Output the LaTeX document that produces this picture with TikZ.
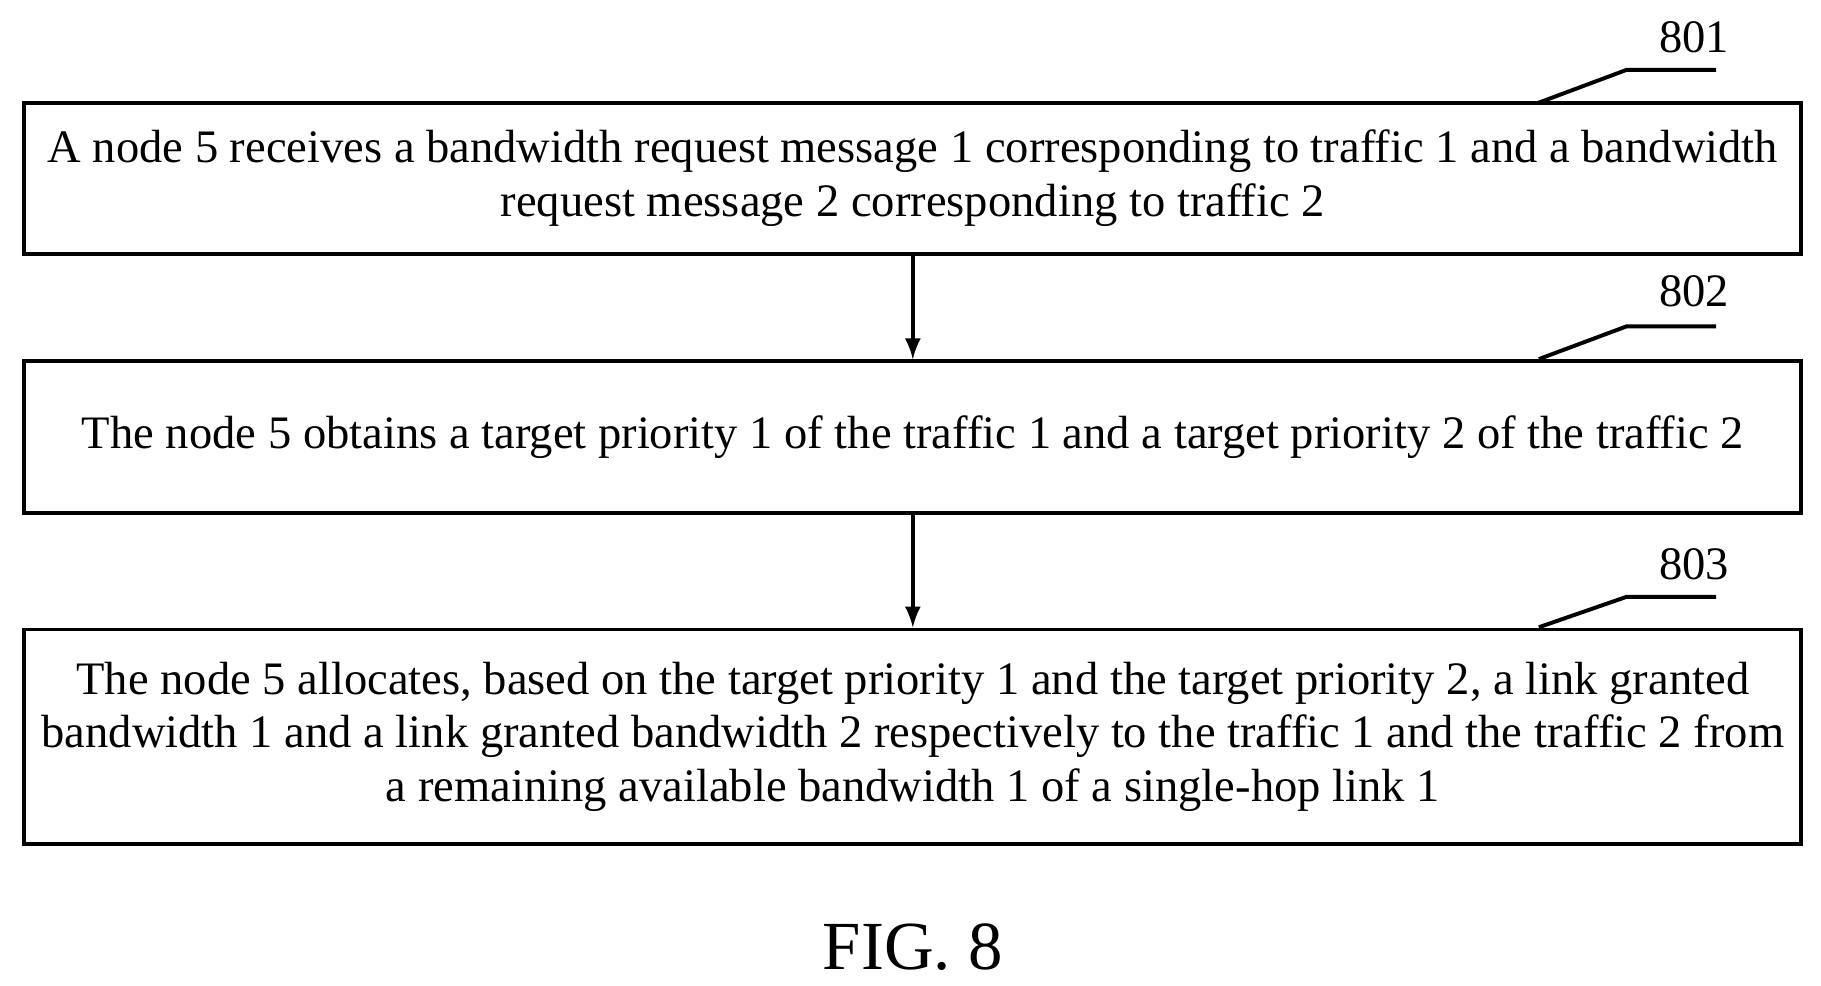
\documentclass[tikz,border=0pt]{standalone}
\usepackage{fontspec}
\setmainfont{Liberation Serif}
\usetikzlibrary{arrows}

\tikzset{stepbox/.style={shape=rectangle, draw, line width=1.2pt, minimum width=19.05cm, align=center, font=\fontsize{14.2}{16.4}\selectfont, inner sep=0pt},
num/.style={font=\fontsize{14.2}{16.4}\selectfont}}

\begin{document}
\begin{tikzpicture}[x=0.0125cm, y=-0.0125cm]
\useasboundingbox (0,0) rectangle (1562,845);
\node (a) at (783,153) [stepbox, minimum height=1.625cm]{A node 5 receives a bandwidth request message 1 corresponding to traffic 1 and a bandwidth\\request message 2 corresponding to traffic 2};
\node (b) at (783,375) [stepbox, minimum height=1.625cm]{The node 5 obtains a target priority 1 of the traffic 1 and a target priority 2 of the traffic 2};
\node (c) at (783,632) [stepbox, minimum height=2.3cm]{The node 5 allocates, based on the target priority 1 and the target priority 2, a link granted\\bandwidth 1 and a link granted bandwidth 2 respectively to the traffic 1 and the traffic 2 from\\a remaining available bandwidth 1 of a single-hop link 1};

\node (na) at (1453,32) [num]{801};
\node (nb) at (1453,250) [num]{802};
\node (nc) at (1453,484) [num]{803};
\draw [line width=1.2pt] (1320,88) -- (1395,60) -- (1472,60);
\draw [line width=1.2pt] (1320,308) -- (1395,280) -- (1472,280);
\draw [line width=1.2pt] (1320,538) -- (1395,512) -- (1472,512);

\draw [-latex, line width=1.2pt] (a) -- (b);
\draw [-latex, line width=1.2pt] (b) -- (c);

\node (fig) at (783,812) [font=\fontsize{21}{24}\selectfont]{FIG. 8};
\end{tikzpicture}
\end{document}
